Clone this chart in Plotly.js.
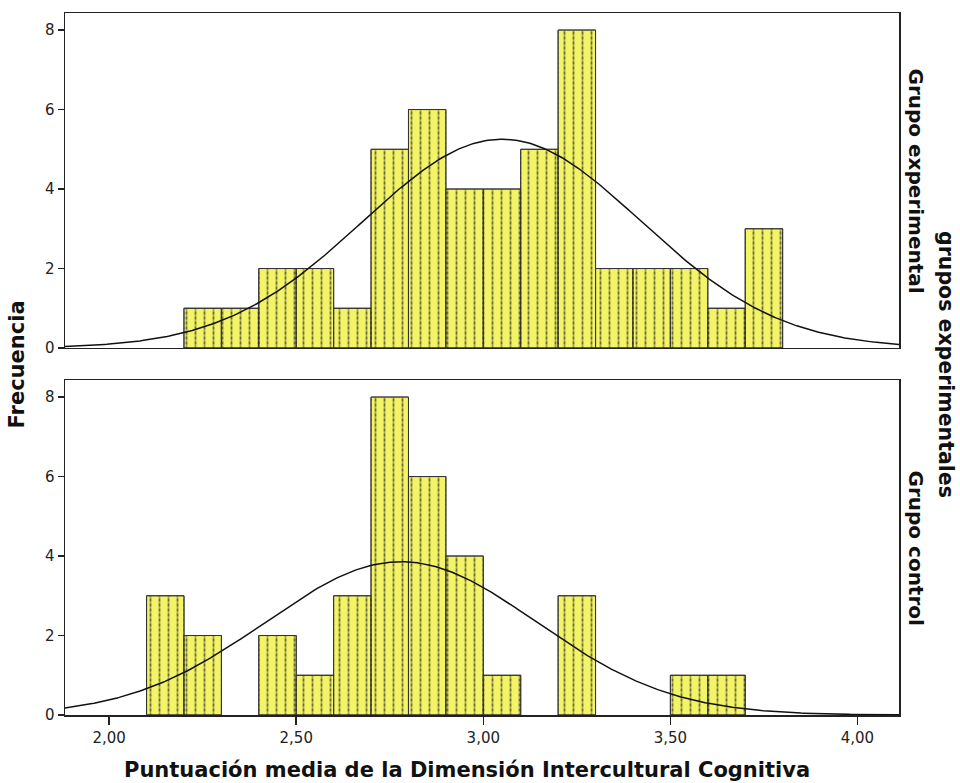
<!DOCTYPE html>
<html><head><meta charset="utf-8">
<script src="https://cdn.plot.ly/plotly-3.0.1.min.js"></script>
<style>html,body{margin:0;padding:0;background:#fff;}#c{width:960px;height:783px;}</style>
</head><body><div id="c"></div>
<script>
// Bin left edges (width 0.1) and frequencies
const binWidth = 0.1;
const expBins = [2.2,2.3,2.4,2.5,2.6,2.7,2.8,2.9,3.0,3.1,3.2,3.3,3.4,3.5,3.6,3.7];
const expCounts = [1,1,2,2,1,5,6,4,4,5,8,2,2,2,1,3];
const ctrlBins = [2.1,2.2,2.4,2.5,2.6,2.7,2.8,2.9,3.0,3.2,3.5,3.6];
const ctrlCounts = [3,2,2,1,3,8,6,4,1,3,1,1];
// Normal fit parameters
const expMean = 3.05, expSD = 0.372;
const ctrlMean = 2.78, ctrlSD = 0.362;
const xTicks = [2.0,2.5,3.0,3.5,4.0];
const yTicks = [0,2,4,6,8];
const groupLabels = ["Grupo experimental","Grupo control"];

const xRange = [1.882, 4.111];
const fill = "#f4f468";
const FONT = 'DejaVu Sans, Verdana, sans-serif';

function curve(mean, sd, n){
  const xs=[], ys=[];
  for(let i=0;i<=400;i++){
    const x = xRange[0] + (xRange[1]-xRange[0])*i/400;
    xs.push(x);
    ys.push(n*binWidth/(sd*Math.sqrt(2*Math.PI))*Math.exp(-0.5*((x-mean)/sd)**2));
  }
  return [xs, ys];
}
function bars(bins, counts, xa, ya){
  const mids = bins.map(b=>b+binWidth/2);
  return [
    {type:'bar', x:mids, y:counts, width:binWidth, xaxis:xa, yaxis:ya,
     marker:{color:fill, line:{color:'#333', width:1},
       pattern:{shape:'|', fgcolor:'#6b6b38', bgcolor:fill, size:9, solidity:0.2}},
     hoverinfo:'x+y', showlegend:false},
    {type:'bar', x:mids, y:counts, width:binWidth, xaxis:xa, yaxis:ya,
     marker:{color:'rgba(0,0,0,0)', line:{color:'#333', width:1},
       pattern:{shape:'-', fgcolor:fill, bgcolor:'rgba(0,0,0,0)', size:5, solidity:0.45, fillmode:'overlay'}},
     hoverinfo:'skip', showlegend:false}
  ];
}
const sumE = expCounts.reduce((a,b)=>a+b,0);
const sumC = ctrlCounts.reduce((a,b)=>a+b,0);
const cE = curve(expMean, expSD, sumE);
const cC = curve(ctrlMean, ctrlSD, sumC);

const data = [
  ...bars(expBins, expCounts, 'x', 'y'),
  {type:'scatter', mode:'lines', x:cE[0], y:cE[1], xaxis:'x', yaxis:'y', line:{color:'#111', width:1.5}, hoverinfo:'skip', showlegend:false},
  ...bars(ctrlBins, ctrlCounts, 'x2', 'y2'),
  {type:'scatter', mode:'lines', x:cC[0], y:cC[1], xaxis:'x2', yaxis:'y2', line:{color:'#111', width:1.5}, hoverinfo:'skip', showlegend:false}
];

const tickFont = {family:FONT, size:15, color:'#222'};
const yax = (dom)=>({domain:dom, range:[0,8.43], tickvals:yTicks, ticks:'outside', ticklen:6, tickwidth:1.5, tickcolor:'#222',
  showline:true, linecolor:'#222', linewidth:1.5, mirror:true, showgrid:false, zeroline:false, tickfont:tickFont, fixedrange:true});
const titleFont = {family:FONT, size:20, color:'#111'};
const layout = {
  width:960, height:783,
  margin:{l:65, r:61, t:13, b:68},
  paper_bgcolor:'#fff', plot_bgcolor:'#fff',
  barmode:'overlay', separators:',.',
  xaxis:{range:xRange, anchor:'y', showticklabels:false, ticks:'', showline:true, linecolor:'#222', linewidth:1.5, mirror:true, showgrid:false, zeroline:false},
  xaxis2:{range:xRange, anchor:'y2', tickvals:xTicks, tickformat:'.2f', ticks:'outside', ticklen:8, tickwidth:1.5, tickcolor:'#222',
    showline:true, linecolor:'#222', linewidth:1.5, mirror:true, showgrid:false, zeroline:false, tickfont:tickFont},
  yaxis:yax([0.5228,1]),
  yaxis2:yax([0,0.4772]),
  annotations:[
    {text:'<b>Frecuencia</b>', xref:'paper', yref:'paper', x:-0.057, y:0.5, xanchor:'center', yanchor:'middle', textangle:-90, showarrow:false, font:Object.assign({}, titleFont, {size:21})},
    {text:'<b>Puntuación media de la Dimensión Intercultural Cognitiva</b>', xref:'paper', yref:'paper', x:(467-65)/834, y:-0.078, xanchor:'center', yanchor:'middle', showarrow:false, font:Object.assign({}, titleFont, {size:21})},
    {text:'<b>'+groupLabels[0]+'</b>', xref:'paper', yref:'paper', x:(916-65)/834, y:0.7614, xanchor:'center', yanchor:'middle', textangle:90, showarrow:false, font:titleFont},
    {text:'<b>'+groupLabels[1]+'</b>', xref:'paper', yref:'paper', x:(916-65)/834, y:0.2386, xanchor:'center', yanchor:'middle', textangle:90, showarrow:false, font:titleFont},
    {text:'<b>grupos experimentales</b>', xref:'paper', yref:'paper', x:(946-65)/834, y:0.5, xanchor:'center', yanchor:'middle', textangle:90, showarrow:false, font:Object.assign({}, titleFont, {size:20.5})}
  ]
};
Plotly.newPlot('c', data, layout, {displayModeBar:false, staticPlot:true});
</script></body></html>
